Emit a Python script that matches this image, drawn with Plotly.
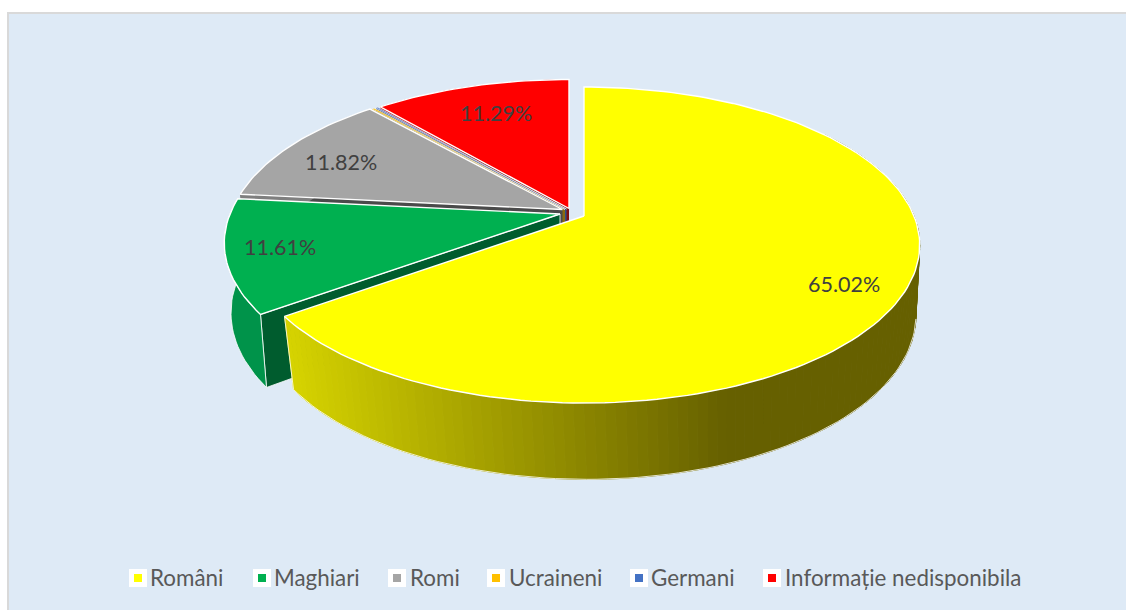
import math
import plotly.graph_objects as go

# ---- data ----
CATEGORIES = ["Români", "Maghiari", "Romi", "Ucraineni", "Germani", "Informație nedisponibila"]
VALUES = [65.02, 11.61, 11.82, 0.14, 0.12, 11.29]
SHOW_LABEL = [True, True, True, False, False, True]
COLORS = ["#FFFF00", "#00B050", "#A5A5A5", "#FFC000", "#4472C4", "#FF0000"]
RADIAL_WALL = ["#7A7A00", "#005C2E", "#4A4A4A", "#8A6A10", "#2F4F88", "#7F1010"]
OUTER_WALL = [None, "#00934A", "#7F7F7F", "#BF9000", "#335A9A", "#BF0000"]

# ---- pseudo-3D projection (pixels of the 1126x610 page) ----
SCALE_X, SCALE_Y, PERSP = 330.0, 152.7, 0.1837
BOTTOM_F, BOTTOM_D0, BOTTOM_E = 0.98, 68.0, 12.0
BOTTOM_DX = [3.0, 0.0, 0.0, 0.0, 0.0, 0.0]
APEX = [(584, 216), (560, 214), (562.5, 209.5), (565, 209.5), (566.5, 209), (569, 208.5)]
LABEL_R = [0.83, 0.84, 0.80, 0, 0, 0.70]
LABEL_SHIFT = [(-2, 6), (-1, -2), (-1, 5), (0, 0), (0, 0), (-1, -6)]
DRAW_ORDER = [5, 4, 3, 2, 1, 0]
LEGEND_SWATCH_X = [138, 262, 397, 496, 639, 772]
LEGEND_TEXT_X = [148, 272, 408, 507, 649, 783]
LEGEND_SWATCH_Y = 578
LEGEND_TEXT_Y = 577


def project(theta, r, apex, lower_dx=None):
    t = math.radians(theta)
    u, v = r * math.sin(t), -r * math.cos(t)
    w = 1 - PERSP * v
    if lower_dx is not None:
        return (apex[0] + lower_dx + BOTTOM_F * SCALE_X * u / w,
                apex[1] + BOTTOM_D0 + BOTTOM_E * v + BOTTOM_F * SCALE_Y * v / w)
    return apex[0] + SCALE_X * u / w, apex[1] + SCALE_Y * v / w


def poly(points, fill, name, line="white", width=0.0):
    xs = [p[0] for p in points] + [points[0][0]]
    ys = [p[1] for p in points] + [points[0][1]]
    return go.Scatter(x=xs, y=ys, mode="lines", fill="toself", fillcolor=fill,
                      line=dict(color=line, width=width), name=name, showlegend=False,
                      hoverinfo="text", text=name, hoveron="fills")


def yellow_shade(x):
    t = min(1.0, max(0.0, (x - 290) / (730 - 290)))
    return "rgb(%d,%d,0)" % (round(214 + (102 - 214) * t), round(211 + (96 - 211) * t))


total = sum(VALUES)
starts, acc = [], 0.0
for val in VALUES:
    starts.append(acc)
    acc += val / total * 360

fig = go.Figure()
annotations = []

for i in DRAW_ORDER:
    name = CATEGORIES[i]
    apex = APEX[i]
    dx = BOTTOM_DX[i]
    a0, a1 = starts[i], starts[i] + VALUES[i] / total * 360
    n = max(2, int((a1 - a0) / 1.5))
    angles = [a0 + (a1 - a0) * k / n for k in range(n + 1)]

    # radial wall on the edge that faces the viewer
    if i != 0:
        wall = [(apex[0], apex[1]), project(a0, 1, apex),
                project(a0, 1, apex, dx), project(a0, 0, apex, dx)]
        fig.add_trace(poly(wall, RADIAL_WALL[i], name, line="white", width=0.8 if i == 1 else 0))

    # outer wall
    if i == 0:
        front = [a for a in angles if math.cos(math.radians(a)) <= 0.6]
        for a, b in zip(front[:-1], front[1:]):
            seg = [project(a, 1, apex), project(b, 1, apex),
                   project(b, 1, apex, dx), project(a, 1, apex, dx)]
            c = yellow_shade(seg[0][0])
            fig.add_trace(poly(seg, c, name, line=c, width=1))
        rim = [a for a in front if math.cos(math.radians(a)) <= -0.2]
        edge = [project(a, 1, apex, dx) for a in rim] + [project(rim[-1], 1, apex)]
        fig.add_trace(go.Scatter(x=[p[0] for p in edge], y=[p[1] for p in edge], mode="lines",
                                 line=dict(color="white", width=0.8), showlegend=False, hoverinfo="skip"))
    else:
        outer = [project(a, 1, apex) for a in angles] + [project(a, 1, apex, dx) for a in reversed(angles)]
        fig.add_trace(poly(outer, OUTER_WALL[i], name, line="white", width=0.8 if i == 1 else 0))

    # top face
    top = [apex] + [project(a, 1, apex) for a in angles]
    thin = VALUES[i] < 1
    fig.add_trace(poly(top, COLORS[i], name, line="white", width=0.6 if thin else 1.4))

    if SHOW_LABEL[i]:
        mid = (a0 + a1) / 2
        lx, ly = project(mid, LABEL_R[i], apex)
        annotations.append(dict(x=lx + LABEL_SHIFT[i][0], y=ly + LABEL_SHIFT[i][1], xref="x", yref="y",
                                text=f"{VALUES[i]:.2f}%", showarrow=False,
                                font=dict(family="Lato, Carlito, sans-serif", size=21.5, color="#404040")))

# legend row
for i, name in enumerate(CATEGORIES):
    fig.add_trace(go.Scatter(x=[LEGEND_SWATCH_X[i]], y=[LEGEND_SWATCH_Y], mode="markers", showlegend=False,
                             marker=dict(symbol="square", size=18, color="white"), hoverinfo="skip"))
    fig.add_trace(go.Scatter(x=[LEGEND_SWATCH_X[i]], y=[LEGEND_SWATCH_Y], mode="markers", showlegend=False,
                             marker=dict(symbol="square", size=8, color=COLORS[i]), hoverinfo="skip"))
    annotations.append(dict(x=LEGEND_TEXT_X[i], y=LEGEND_TEXT_Y, xref="x", yref="y", xanchor="left",
                            text=name, showarrow=False,
                            font=dict(family="Lato, Carlito, sans-serif", size=22.4, color="#595959")))

fig.update_layout(
    width=1126, height=610, margin=dict(l=0, r=0, t=0, b=0, pad=0),
    paper_bgcolor="white", plot_bgcolor="white", showlegend=False,
    xaxis=dict(range=[0, 1126], visible=False, fixedrange=True),
    yaxis=dict(range=[610, 0], visible=False, fixedrange=True),
    shapes=[dict(type="rect", xref="x", yref="y", x0=8, y0=13, x1=1130, y1=615, layer="below",
                 fillcolor="#DEEAF6", line=dict(color="#D9D9D9", width=2))],
    annotations=annotations,
)
fig.write_html("out.html", config={"displayModeBar": False},
               post_script="document.body.style.margin='0';document.body.style.overflow='hidden';")
